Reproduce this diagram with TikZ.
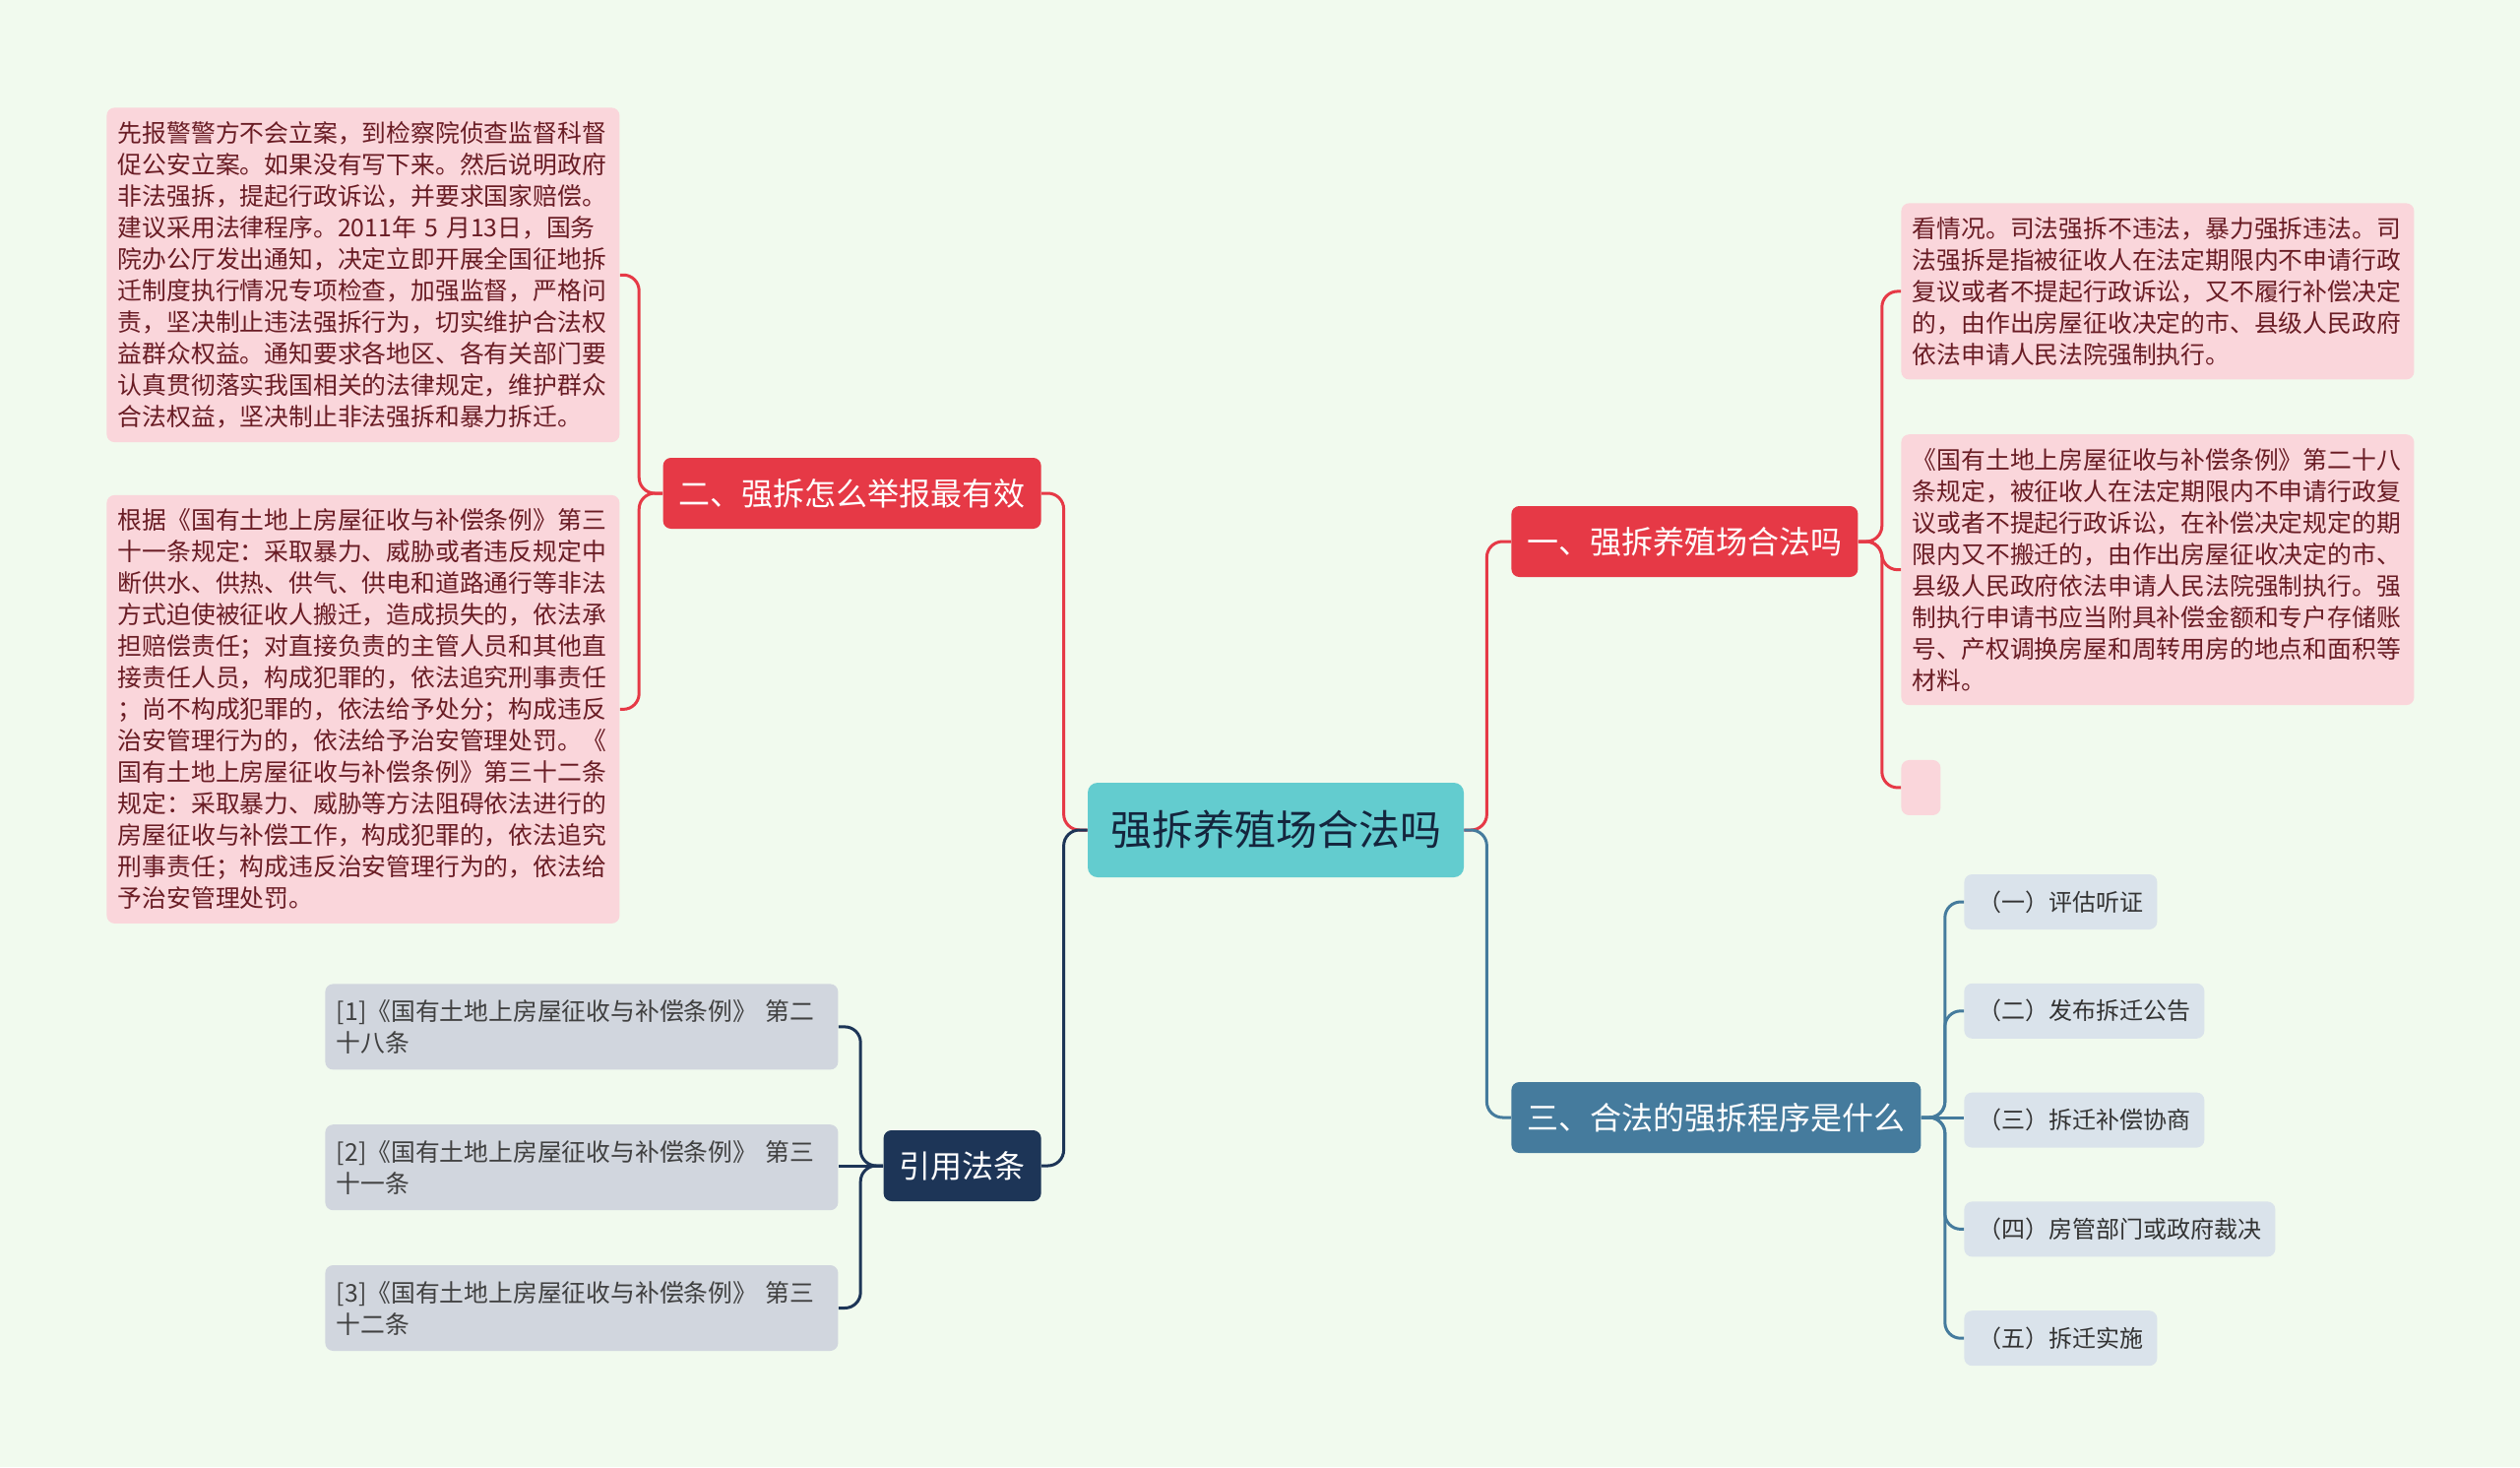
\documentclass[tikz,border=0pt]{standalone}
\usepackage{fontspec}
\setmainfont{Noto Sans CJK SC}
\usepackage{xcolor}
\usepackage{tikz}
\usetikzlibrary{positioning,calc}
\definecolor{bgmint}{RGB}{241,250,238}
\definecolor{brred}{RGB}{230,57,70}
\definecolor{brblue}{RGB}{69,123,157}
\definecolor{brnavy}{RGB}{29,53,87}
\definecolor{rootteal}{RGB}{99,204,207}
\definecolor{leafpink}{RGB}{250,214,219}
\definecolor{leaftext}{RGB}{105,28,36}
\definecolor{refgray}{RGB}{209,214,222}
\definecolor{stepgray}{RGB}{218,227,235}
\tikzset{
  rootnode/.style={fill=rootteal, text=brnavy!70!black, rounded corners=5pt,
                   minimum width=191pt, minimum height=48pt, font=\fontsize{21}{25}\selectfont},
  topicnode/.style={text=white, rounded corners=4pt, inner xsep=8pt,
                    minimum height=36pt, font=\fontsize{16}{19}\selectfont},
  leafbox/.style={fill=leafpink, text=leaftext, rounded corners=4pt, text width=249pt,
                  align=left, inner xsep=5.75pt, inner ysep=7pt, font=\fontsize{12.4}{16}\selectfont},
  refbox/.style={fill=refgray, text=black!75, rounded corners=4pt, text width=249pt,
                 align=left, inner xsep=5.75pt, minimum height=43.5pt, font=\fontsize{12.4}{16}\selectfont},
  stepbox/.style={fill=stepgray, text=black!80, rounded corners=4pt, inner xsep=7pt,
                  minimum height=28pt, font=\fontsize{12}{15}\selectfont},
  link/.style={line width=1.5pt, rounded corners=8pt}
}
\begin{document}
\begin{tikzpicture}[x=0.5pt, y=-0.5pt]
  \fill[bgmint] (0,0) rectangle (2560,1490);
  \useasboundingbox (0,0) rectangle (2560,1490);

  % Root and main topics
  \node[rootnode] (root) at (1296,843) {强拆养殖场合法吗};
  \node[topicnode, fill=brred, anchor=west] (q1) at (1535,550) {一、强拆养殖场合法吗};
  \node[topicnode, fill=brblue, anchor=west] (q3) at (1535,1135) {三、合法的强拆程序是什么};
  \node[topicnode, fill=brred, anchor=east] (q2) at (1058,501) {二、强拆怎么举报最有效};
  \node[topicnode, fill=brnavy, anchor=east] (law) at (1058,1184) {引用法条};

  % Right side: answers to topic one
  \node[leafbox, anchor=north west] (rA) at (1931,206)
    {看情况。司法强拆不违法，暴力强拆违法。司\\
     法强拆是指被征收人在法定期限内不申请行政\\
     复议或者不提起行政诉讼，又不履行补偿决定\\
     的，由作出房屋征收决定的市、县级人民政府\\
     依法申请人民法院强制执行。};
  \node[leafbox, below=27.5pt of rA.south west, anchor=north west] (rB)
    {《国有土地上房屋征收与补偿条例》第二十八\\
     条规定，被征收人在法定期限内不申请行政复\\
     议或者不提起行政诉讼，在补偿决定规定的期\\
     限内又不搬迁的，由作出房屋征收决定的市、\\
     县级人民政府依法申请人民法院强制执行。强\\
     制执行申请书应当附具补偿金额和专户存储账\\
     号、产权调换房屋和周转用房的地点和面积等\\
     材料。};
  \node[fill=leafpink, rounded corners=4pt, minimum width=20pt, minimum height=28pt,
        below=27.5pt of rB.south west, anchor=north west] (rC) {};

  % Right side: steps of topic three
  \node[stepbox, anchor=west] (s1) at (1995,916) {（一）评估听证};
  \node[stepbox, below=27pt of s1.south west, anchor=north west] (s2) {（二）发布拆迁公告};
  \node[stepbox, below=27pt of s2.south west, anchor=north west] (s3) {（三）拆迁补偿协商};
  \node[stepbox, below=27pt of s3.south west, anchor=north west] (s4) {（四）房管部门或政府裁决};
  \node[stepbox, below=27pt of s4.south west, anchor=north west] (s5) {（五）拆迁实施};

  % Left side: answers to topic two
  \node[leafbox, anchor=north west] (lA) at (108,109)
    {先报警警方不会立案，到检察院侦查监督科督\\
     促公安立案。如果没有写下来。然后说明政府\\
     非法强拆，提起行政诉讼，并要求国家赔偿。\\
     建议采用法律程序。2011年 5 月13日，国务\\
     院办公厅发出通知，决定立即开展全国征地拆\\
     迁制度执行情况专项检查，加强监督，严格问\\
     责，坚决制止违法强拆行为，切实维护合法权\\
     益群众权益。通知要求各地区、各有关部门要\\
     认真贯彻落实我国相关的法律规定，维护群众\\
     合法权益，坚决制止非法强拆和暴力拆迁。};
  \node[leafbox, below=26.5pt of lA.south west, anchor=north west] (lB)
    {根据《国有土地上房屋征收与补偿条例》第三\\
     十一条规定：采取暴力、威胁或者违反规定中\\
     断供水、供热、供气、供电和道路通行等非法\\
     方式迫使被征收人搬迁，造成损失的，依法承\\
     担赔偿责任；对直接负责的主管人员和其他直\\
     接责任人员，构成犯罪的，依法追究刑事责任\\
     ；尚不构成犯罪的，依法给予处分；构成违反\\
     治安管理行为的，依法给予治安管理处罚。《\\
     国有土地上房屋征收与补偿条例》第三十二条\\
     规定：采取暴力、威胁等方法阻碍依法进行的\\
     房屋征收与补偿工作，构成犯罪的，依法追究\\
     刑事责任；构成违反治安管理行为的，依法给\\
     予治安管理处罚。};

  % Left side: cited articles
  \node[refbox, anchor=north west] (r1) at (330,999)
    {[1]《国有土地上房屋征收与补偿条例》 第二\\十八条};
  \node[refbox, below=27.5pt of r1.south west, anchor=north west] (r2)
    {[2]《国有土地上房屋征收与补偿条例》 第三\\十一条};
  \node[refbox, below=27.5pt of r2.south west, anchor=north west] (r3)
    {[3]《国有土地上房屋征收与补偿条例》 第三\\十二条};

  % Connectors
  \draw[link, brred] (root.east) -- ++(23,0) |- (q1.west);
  \draw[link, brblue] (root.east) -- ++(23,0) |- (q3.west);
  \draw[link, brred] (root.west) -- ++(-24,0) |- (q2.east);
  \draw[link, brnavy] (root.west) -- ++(-24,0) |- (law.east);
  \foreach \w in {rA,rB,rC}{
    \draw[link, brred] (q1.east) -- ++(24,0) |- (\w.west);
  }
  \foreach \w in {s1,s2,s4,s5}{
    \draw[link, brblue] (q3.east) -- ++(24,0) |- (\w.west);
  }
  \draw[link, brblue] (q3.east) -- (q3.east -| s3.west);
  \foreach \w in {lA,lB}{
    \draw[link, brred] (q2.west) -- ++(-24,0) |- (\w.east);
  }
  \foreach \w in {r1,r3}{
    \draw[link, brnavy] (law.west) -- ++(-23,0) |- (\w.east);
  }
  \draw[link, brnavy] (law.west) -- (law.west -| r2.east);
\end{tikzpicture}
\end{document}
